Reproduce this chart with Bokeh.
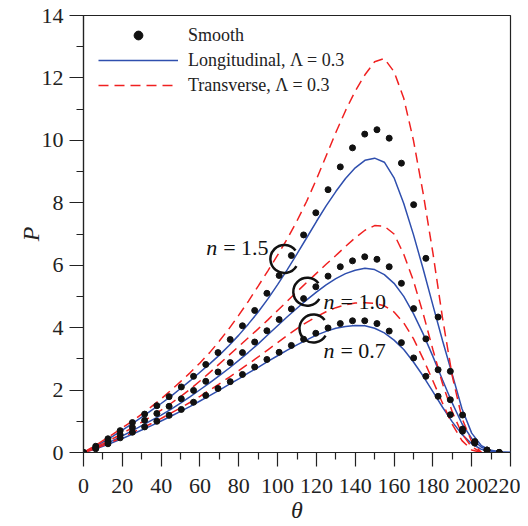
from bokeh.plotting import figure
from bokeh.models import Range1d, Legend, LegendItem, Label, FixedTicker
from bokeh.embed import file_html
from bokeh.resources import INLINE

# ---------------- data ----------------
theta_dots = [0, 6.3, 12.6, 18.9, 25.2, 31.5, 37.8, 44.1, 50.4, 56.7, 63.0, 69.3,
              75.6, 81.9, 88.2, 94.5, 100.8, 107.1, 113.4, 119.7, 126.0, 132.3,
              138.6, 144.9, 151.2, 157.5, 163.8, 170.1, 176.4, 182.7, 189.0,
              195.3, 201.6, 207.9, 214.2]
smooth_n15 = [0, 0.2, 0.44, 0.7, 0.96, 1.23, 1.5, 1.79, 2.1, 2.44, 2.82, 3.2, 3.62,
              4.06, 4.55, 5.1, 5.67, 6.31, 6.97, 7.68, 8.42, 9.15, 9.76, 10.2, 10.34,
              10.07, 9.27, 7.94, 6.22, 4.34, 2.6, 1.2, 0.35, 0.08, 0.0]
smooth_n10 = [0, 0.15, 0.36, 0.57, 0.8, 1.03, 1.25, 1.48, 1.72, 1.99, 2.28, 2.58, 2.88,
              3.2, 3.54, 3.9, 4.26, 4.6, 4.93, 5.31, 5.65, 5.95, 6.14, 6.27, 6.19,
              5.95, 5.42, 4.61, 3.64, 2.65, 1.69, 0.75, 0.3, 0.07, 0.0]
smooth_n07 = [0, 0.12, 0.28, 0.47, 0.65, 0.82, 1.0, 1.19, 1.38, 1.61, 1.83, 2.05, 2.27,
              2.5, 2.74, 2.98, 3.21, 3.43, 3.63, 3.82, 3.99, 4.13, 4.22, 4.22, 4.13,
              3.89, 3.52, 3.03, 2.44, 1.8, 1.21, 0.68, 0.33, 0.08, 0.0]

theta_long = [0, 5, 10, 15, 20, 25, 30, 35, 40, 45, 50, 55, 60, 65, 70, 75, 80, 85, 90,
              95, 100, 105, 110, 115, 120, 125, 130, 135, 140, 145, 150, 155, 160, 165,
              170, 175, 180, 185, 190, 195, 200, 205, 210, 215, 220]
long_n15 = [0, 0.16, 0.33, 0.52, 0.72, 0.92, 1.13, 1.35, 1.57, 1.8, 2.05, 2.3, 2.57,
            2.84, 3.12, 3.43, 3.76, 4.12, 4.5, 4.92, 5.38, 5.86, 6.36, 6.88, 7.4, 7.9,
            8.36, 8.78, 9.12, 9.36, 9.43, 9.3, 8.8, 7.98, 6.98, 5.88, 4.72, 3.58, 2.5,
            1.4, 0.62, 0.22, 0.07, 0.02, 0.0]
long_n10 = [0, 0.11, 0.24, 0.38, 0.53, 0.69, 0.86, 1.03, 1.2, 1.38, 1.58, 1.79, 2.01,
            2.23, 2.46, 2.7, 2.95, 3.21, 3.48, 3.77, 4.06, 4.35, 4.62, 4.89, 5.14, 5.37,
            5.57, 5.73, 5.84, 5.9, 5.86, 5.7, 5.42, 5.0, 4.45, 3.8, 3.08, 2.32, 1.58,
            0.92, 0.45, 0.17, 0.05, 0.01, 0.0]
long_n07 = [0, 0.09, 0.2, 0.32, 0.45, 0.58, 0.72, 0.86, 1.01, 1.16, 1.32, 1.48, 1.65,
            1.82, 2.0, 2.18, 2.36, 2.55, 2.73, 2.92, 3.1, 3.28, 3.45, 3.61, 3.76, 3.88,
            3.98, 4.04, 4.07, 4.06, 3.98, 3.83, 3.6, 3.3, 2.9, 2.45, 1.95, 1.45, 0.98,
            0.58, 0.28, 0.1, 0.03, 0.01, 0.0]

theta_trans = [0, 5, 10, 15, 20, 25, 30, 35, 40, 45, 50, 55, 60, 65, 70, 75, 80, 85, 90,
               95, 100, 105, 110, 115, 120, 125, 130, 135, 140, 145, 150, 155, 160, 165,
               170, 175, 180, 185, 190, 195, 200, 205]
trans_n15 = [0, 0.18, 0.38, 0.58, 0.79, 1.0, 1.23, 1.47, 1.72, 1.99, 2.27, 2.56, 2.87,
             3.2, 3.57, 3.97, 4.4, 4.85, 5.33, 5.82, 6.32, 6.85, 7.42, 8.05, 8.75, 9.5,
             10.25, 10.95, 11.58, 12.1, 12.52, 12.62, 12.2, 11.35, 10.0, 8.3, 6.4, 4.3,
             2.45, 1.1, 0.35, 0.0]
trans_n10 = [0, 0.13, 0.28, 0.44, 0.61, 0.79, 0.97, 1.16, 1.36, 1.57, 1.79, 2.03, 2.29,
             2.56, 2.84, 3.12, 3.4, 3.68, 3.96, 4.25, 4.55, 4.85, 5.15, 5.45, 5.74, 6.03,
             6.31, 6.6, 6.88, 7.12, 7.27, 7.25, 7.0, 6.35, 5.5, 4.45, 3.3, 2.2, 1.3, 0.6,
             0.18, 0.0]
trans_n07 = [0, 0.1, 0.22, 0.35, 0.49, 0.63, 0.78, 0.93, 1.09, 1.26, 1.43, 1.61, 1.8,
             2.0, 2.2, 2.41, 2.62, 2.84, 3.06, 3.29, 3.52, 3.75, 3.97, 4.17, 4.35, 4.51,
             4.64, 4.73, 4.79, 4.8, 4.78, 4.7, 4.5, 4.15, 3.65, 3.0, 2.3, 1.58, 0.9, 0.38,
             0.08, 0.0]

x_ticks = [0, 20, 40, 60, 80, 100, 120, 140, 160, 180, 200, 220]
x_minor = [10, 30, 50, 70, 90, 110, 130, 150, 170, 190, 210]
y_ticks = [0, 2, 4, 6, 8, 10, 12, 14]
y_minor = [1, 3, 5, 7, 9, 11, 13]

legend_labels = ["Smooth", "Longitudinal, \u039b = 0.3", "Transverse, \u039b = 0.3"]
n_labels = ["= 1.5", "= 1.0", "= 0.7"]

# ---------------- styling ----------------
FONT = "Liberation Serif"
BLUE = "#2f4fae"
RED = "#f02020"
DASH = "10 6"

p = figure(width=520, height=525, output_backend="svg",
           toolbar_location=None, x_range=Range1d(0, 220), y_range=Range1d(0, 14),
           min_border_left=83, min_border_right=10, min_border_top=15,
           min_border_bottom=72)
p.xgrid.visible = False
p.ygrid.visible = False
p.outline_line_color = "#222222"
p.outline_line_width = 1.2
p.background_fill_color = "white"
p.border_fill_color = "white"

p.xaxis.ticker = FixedTicker(ticks=x_ticks, minor_ticks=x_minor)
p.yaxis.ticker = FixedTicker(ticks=y_ticks, minor_ticks=y_minor)
for ax in (p.xaxis[0], p.yaxis[0]):
    ax.major_tick_in = 0
    ax.major_tick_out = 14
    ax.minor_tick_in = 0
    ax.minor_tick_out = 7
    ax.axis_line_color = "#222222"
    ax.axis_line_width = 1.2
    ax.major_tick_line_color = "#222222"
    ax.major_tick_line_width = 1.2
    ax.minor_tick_line_color = "#222222"
    ax.minor_tick_line_width = 1.2
    ax.major_label_text_font = FONT
    ax.major_label_text_font_size = "22px"
    ax.major_label_text_color = "#222222"
    ax.axis_label_text_font = FONT
    ax.axis_label_text_font_size = "24px"
    ax.axis_label_text_font_style = "italic"
    ax.axis_label_text_color = "#222222"
p.xaxis.axis_label = "\u03b8"
p.yaxis.axis_label = "P"
p.xaxis.major_label_standoff = 12
p.yaxis.major_label_standoff = 6
p.xaxis.axis_label_standoff = 1
p.yaxis.axis_label_standoff = -5

# lines
r_l15 = p.line(theta_long, long_n15, line_color=BLUE, line_width=1.5)
p.line(theta_long, long_n10, line_color=BLUE, line_width=1.5)
p.line(theta_long, long_n07, line_color=BLUE, line_width=1.5)
r_t15 = p.line(theta_trans, trans_n15, line_color=RED, line_width=1.5, line_dash=DASH)
p.line(theta_trans, trans_n10, line_color=RED, line_width=1.5, line_dash=DASH)
p.line(theta_trans, trans_n07, line_color=RED, line_width=1.5, line_dash=DASH)

# dots
r_s15 = p.scatter(theta_dots, smooth_n15, size=6, color="#111111")
p.scatter(theta_dots, smooth_n10, size=6, color="#111111")
p.scatter(theta_dots, smooth_n07, size=6, color="#111111")

# circle markers (open C shapes) around curves
arc_x = [103.5, 115.3, 118.5]
arc_y = [6.2, 5.15, 3.97]
p.arc(x=arc_x, y=arc_y, radius=14, radius_units="screen",
      start_angle=0.65, end_angle=5.75, direction="anticlock",
      line_color="#111111", line_width=2.5)

# n labels
lab_x = [63.2, 123.7, 123.6]
lab_y = [6.58, 4.83, 3.26]
for lx, ly, txt in zip(lab_x, lab_y, n_labels):
    p.add_layout(Label(x=lx, y=ly, text="n", text_font=FONT, text_font_size="22px",
                       text_font_style="italic", text_color="#111111",
                       text_baseline="alphabetic"))
    p.add_layout(Label(x=lx, y=ly, x_offset=17, text=txt, text_font=FONT,
                       text_font_size="22px", text_color="#111111",
                       text_baseline="alphabetic"))

legend = Legend(items=[LegendItem(label=legend_labels[0], renderers=[r_s15]),
                       LegendItem(label=legend_labels[1], renderers=[r_l15]),
                       LegendItem(label=legend_labels[2], renderers=[r_t15])],
                location=(15, 356))
legend.label_text_font = FONT
legend.label_text_font_size = "18px"
legend.label_text_color = "#222222"
legend.glyph_width = 80
legend.glyph_height = 22
legend.label_height = 22
legend.label_standoff = 10
legend.spacing = 3
legend.padding = 0
legend.margin = 0
legend.border_line_color = None
legend.background_fill_alpha = 0
p.add_layout(legend)

open("out.html", "w").write(file_html(p, INLINE))
